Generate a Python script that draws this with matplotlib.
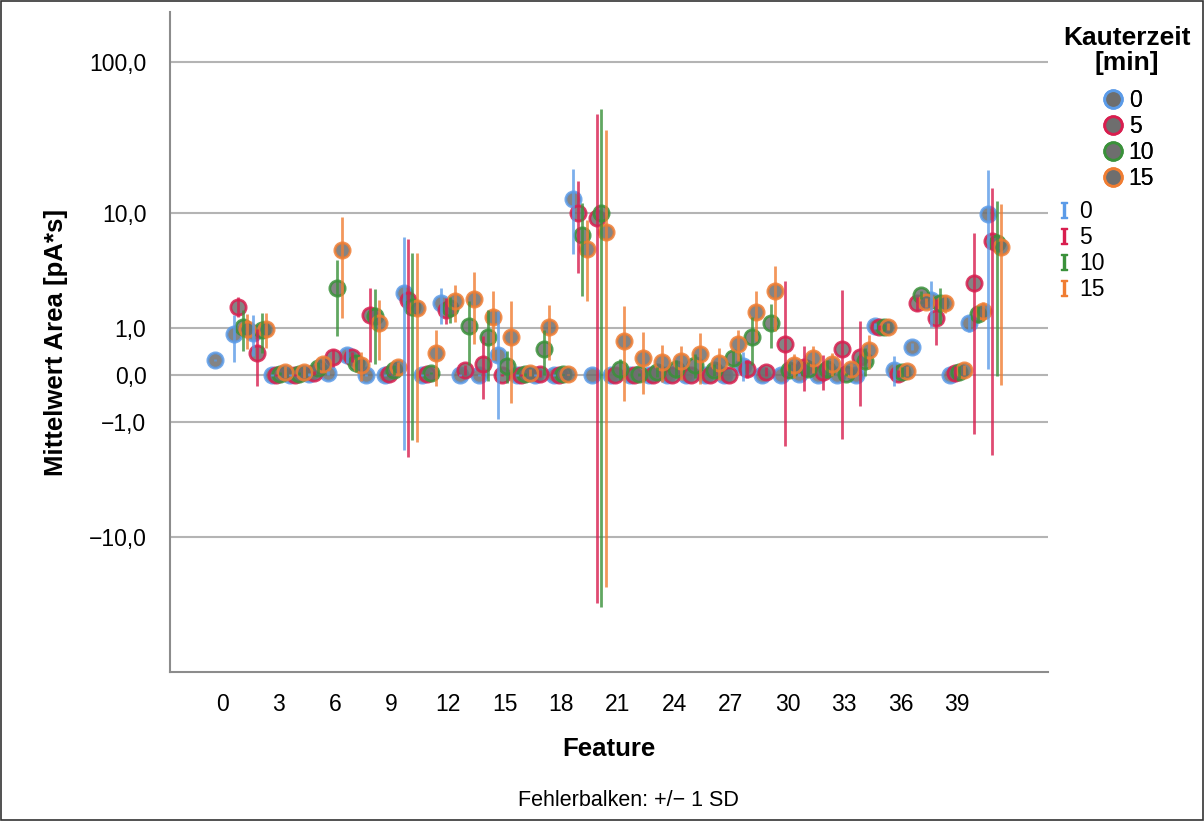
import numpy as np
import matplotlib
matplotlib.use('Agg')
import matplotlib.pyplot as plt
from matplotlib import font_manager
from matplotlib.lines import Line2D
from matplotlib.patches import Rectangle
from matplotlib.ticker import FuncFormatter


features = list(range(42))
groups = ['0', '5', '10', '15']   # Kauterzeit [min]
colors = ['#5b9be8', '#d81e4f', '#3a913a', '#f07d32']

nan = np.nan

mean_0 = [0.25, 0.82, 0.87, 0.0, 0.0, 0.01, 0.03, 0.34, 0.0, 0.0,
          2.34, 0.0, 1.88, 0.0, 0.0, 0.34, 0.0, 0.0, 0.0, 12.4,
          0.0, 0.0, 0.0, 0.0, 0.0, 0.0, 0.0, 0.0, 0.15, 0.0,
          0.0, 0.01, 0.0, 0.0, 0.0, 1.06, 0.08, 0.52, 2.03, 0.0,
          1.16, 9.8]
sd_0 = [0.02, 0.6, 0.55, 0.01, 0.01, 0.02, 0.03, 0.15, 0.01, 0.01,
        4.35, 0.01, 0.75, 0.01, 0.01, 1.25, 0.01, 0.01, 0.01, 7.4,
        0.0, 0.0, 0.0, 0.0, 0.0, 0.0, 0.0, 0.0, 0.25, 0.0,
        0.0, 0.02, 0.0, 0.0, 0.0, 0.1, 0.25, 0.08, 1.0, 0.0,
        0.28, 9.7]

mean_5 = [nan, 1.74, 0.39, 0.0, 0.0, 0.03, 0.30, 0.31, 1.42, 0.01,
          2.03, 0.01, 1.61, 0.08, 0.18, 0.0, 0.0, 0.02, 0.0, 10.0,
          9.1, 0.0, 0.0, 0.0, 0.0, 0.0, 0.0, 0.0, 0.1, 0.05,
          0.58, 0.13, 0.05, 0.47, 0.31, 1.02, 0.02, 1.88, 1.31, 0.03,
          2.87, 6.26]
sd_5 = [nan, 0.4, 0.57, 0.01, 0.01, 0.03, 0.17, 0.1, 1.2, 0.01,
        4.4, 0.01, 0.5, 0.08, 0.6, 0.01, 0.01, 0.05, 0.0, 6.5,
        37.0, 0.0, 0.0, 0.0, 0.0, 0.0, 0.0, 0.0, 0.15, 0.07,
        2.43, 0.4, 0.3, 2.05, 0.9, 0.08, 0.05, 0.3, 0.75, 0.12,
        4.25, 8.5]

mean_10 = [nan, 1.02, 0.94, 0.02, 0.02, 0.11, 2.63, 0.2, 1.38, 0.08,
           1.74, 0.03, 1.67, 1.06, 0.76, 0.15, 0.01, 0.47, 0.01, 6.9,
           10.0, 0.09, 0.01, 0.05, 0.1, 0.16, 0.08, 0.28, 0.76, 1.17,
           0.08, 0.1, 0.1, 0.01, 0.23, 1.02, 0.05, 2.25, 1.88, 0.05,
           1.45, 5.98]
sd_10 = [nan, 0.6, 0.55, 0.02, 0.02, 0.1, 1.85, 0.15, 1.2, 0.08,
         3.35, 0.02, 0.5, 0.9, 0.85, 0.28, 0.02, 0.47, 0.01, 4.7,
         39.5, 0.17, 0.02, 0.08, 0.15, 0.2, 0.1, 0.15, 0.6, 0.68,
         0.1, 0.12, 0.15, 0.02, 0.25, 0.1, 0.08, 0.2, 0.75, 0.1,
         0.3, 6.0]

mean_15 = [nan, 0.97, 0.98, 0.05, 0.05, 0.18, 5.33, 0.16, 1.14, 0.12,
           1.67, 0.38, 1.99, 2.07, 1.34, 0.74, 0.035, 1.02, 0.01, 5.42,
           7.3, 0.65, 0.28, 0.22, 0.23, 0.36, 0.2, 0.58, 1.55, 2.47,
           0.16, 0.28, 0.18, 0.09, 0.45, 1.04, 0.06, 1.92, 1.88, 0.08,
           1.58, 5.64]
sd_15 = [nan, 0.5, 0.5, 0.1, 0.1, 0.12, 4.0, 0.25, 0.9, 0.1,
         3.35, 0.55, 0.8, 1.5, 1.1, 1.25, 0.05, 0.78, 0.01, 3.45,
         29.0, 1.12, 0.6, 0.33, 0.3, 0.5, 0.28, 0.35, 0.9, 1.55,
         0.2, 0.25, 0.2, 0.1, 0.35, 0.1, 0.08, 0.2, 0.4, 0.08,
         0.35, 5.8]

y_ticks = [-10, -1, 0, 1, 10, 100]
x_ticks = list(range(0, 40, 3))


def safe_log(v):
  v = np.asarray(v, dtype=float)
  return np.sign(v) * np.log10(1 + np.abs(v))


def safe_log_inv(v):
  v = np.asarray(v, dtype=float)
  return np.sign(v) * (10 ** np.abs(v) - 1)


def comma_fmt(v, pos):
  return ('%.1f' % v).replace('.', ',').replace('-', '\u2212')


def main():
  names = {f.name for f in font_manager.fontManager.ttflist}
  narrow = 'Liberation Sans Narrow' if 'Liberation Sans Narrow' in names else 'Liberation Sans'
  plt.rcParams['font.family'] = ['Liberation Sans', 'DejaVu Sans']
  plt.rcParams['mathtext.fontset'] = 'dejavuserif'

  fig = plt.figure(figsize=(12.04, 8.21), dpi=100)
  ax = fig.add_axes([170 / 1204, 1 - 672 / 821, 878 / 1204, 660 / 821])
  ax.set_yscale('function', functions=(safe_log, safe_log_inv))

  means = [mean_0, mean_5, mean_10, mean_15]
  sds = [sd_0, sd_5, sd_10, sd_15]
  offsets = [-0.37, -0.13, 0.1, 0.35]
  x = np.array(features, dtype=float)

  handles = []
  for m, s, off, c, g in zip(means, sds, offsets, colors, groups):
    m = np.array(m)
    s = np.array(s)
    ok = ~np.isnan(m)
    ax.vlines(x[ok] + off, (m - s)[ok], (m + s)[ok], colors=c, lw=2, alpha=0.8, zorder=4)
    h, = ax.plot(x[ok] + off, m[ok], 'o', ms=11, mfc='#6e6e6e', mec=c, mew=2,
                 alpha=0.85, zorder=3, label=g)
    handles.append(h)

  ax.set_xlim(-2.76, 43.82)
  ax.set_ylim(-79.1, 211.3)
  ax.set_yticks(y_ticks)
  ax.yaxis.set_major_formatter(FuncFormatter(comma_fmt))
  ax.yaxis.set_minor_locator(matplotlib.ticker.NullLocator())
  ax.set_xticks(x_ticks)
  ax.tick_params(axis='y', length=0, pad=17, labelsize=16.5)
  ax.tick_params(axis='x', length=0, pad=15, labelsize=16.5)
  for lbl in ax.get_xticklabels():
    lbl.set_family([narrow, 'DejaVu Sans'])
  ax.grid(axis='y', color='#b4b4b4', lw=1.5)
  ax.set_axisbelow(True)
  for side in ['top', 'right']:
    ax.spines[side].set_visible(False)
  for side in ['left', 'bottom']:
    ax.spines[side].set_color('#8c8c8c')
    ax.spines[side].set_linewidth(1.5)

  ax.set_ylabel('Mittelwert Area [pA*s]', fontsize=18.5, fontweight='bold')
  ax.yaxis.set_label_coords(-0.116, 0.5)
  ax.set_xlabel('Feature', fontsize=18.5, fontweight='bold', family=[narrow, 'DejaVu Sans'])
  ax.xaxis.set_label_coords(0.5, -0.099)
  fig.text(0.522, 1 - 800 / 821, 'Fehlerbalken: +/\u2212 1 SD', ha='center', va='center',
           fontsize=15.5, family=[narrow, 'DejaVu Sans'])

  # legend for the markers, title as separate centred text
  fig.text(1127 / 1204, 1 - 26 / 821, 'Kauterzeit\n[min]', ha='center', va='top',
           multialignment='center', fontsize=19, fontweight='bold', linespacing=1.05)
  leg1 = fig.legend(handles=handles, loc='upper left',
                    bbox_to_anchor=(1092 / 1204, 1 - 78 / 821), frameon=False,
                    fontsize=16.5, handlelength=0.8, handletextpad=0.3,
                    labelspacing=0.13, borderpad=0, markerscale=1.15)
  for h in leg1.legend_handles:
    h.set_alpha(1)

  bar_handles = [Line2D([], [], ls='none', marker=r'$\mathrm{I}$', ms=11, color=c, label=g)
                 for c, g in zip(colors, groups)]
  fig.add_artist(leg1)
  fig.legend(handles=bar_handles, loc='upper left', bbox_to_anchor=(1046 / 1204, 1 - 189 / 821),
             frameon=False, fontsize=16.5, handlelength=0.6, handletextpad=0.35,
             labelspacing=0.13, borderpad=0)

  fig.add_artist(Rectangle((0.001, 0.001), 0.998, 0.998, transform=fig.transFigure,
                           fill=False, ec='#333333', lw=1.2))
  fig.savefig('out.png', dpi=100)


if __name__ == '__main__':
  main()
